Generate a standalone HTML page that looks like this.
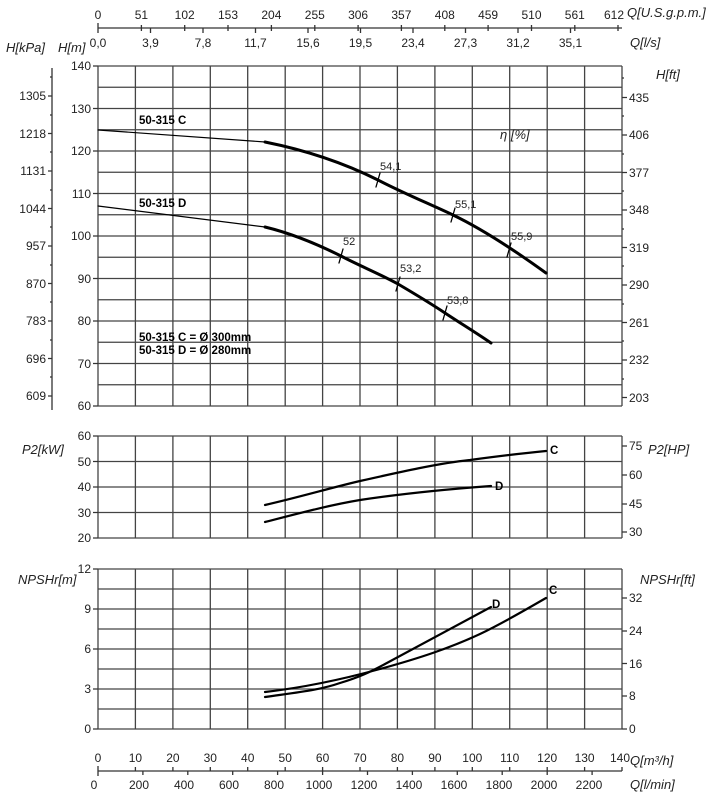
<!DOCTYPE html>
<html><head><meta charset="utf-8"><style>
body{margin:0;background:#fff}
svg{display:block;font-family:"Liberation Sans",Arial,sans-serif}
.g{stroke:#444;stroke-width:1.3;fill:none}
.ax{stroke:#333;stroke-width:1.3;fill:none}
.c{stroke:#000;fill:none;stroke-linecap:round;stroke-linejoin:round}
text{font-size:12px;fill:#222}
.it{font-style:italic;font-size:13px}
.b{font-weight:bold;font-size:11.5px;fill:#000}
.s{font-size:11px}
</style></head><body>
<svg width="715" height="794" viewBox="0 0 715 794" xmlns="http://www.w3.org/2000/svg">
<path class="ax" d="M98 28H622 M98 23V33 M141.4 25V31 M184.7 25V31 M228 25V31 M271.4 25V31 M314.8 25V31 M358.1 25V31 M401.4 25V31 M444.8 25V31 M488.1 25V31 M531.5 25V31 M574.8 25V31 M618 25V31 M150.5 28V33 M203 28V33 M255.5 28V33 M308 28V33 M360.5 28V33 M413 28V33 M465.5 28V33 M518 28V33 M570.5 28V33"/>
<g text-anchor="middle">
<text x="98" y="19">0</text><text x="141.4" y="19">51</text><text x="184.7" y="19">102</text><text x="228" y="19">153</text><text x="271.4" y="19">204</text><text x="314.8" y="19">255</text><text x="358.1" y="19">306</text><text x="401.4" y="19">357</text><text x="444.8" y="19">408</text><text x="488.1" y="19">459</text><text x="531.5" y="19">510</text><text x="574.8" y="19">561</text><text x="614" y="19">612</text>
<text x="98" y="47">0,0</text><text x="150.5" y="47">3,9</text><text x="203" y="47">7,8</text><text x="255.5" y="47">11,7</text><text x="308" y="47">15,6</text><text x="360.5" y="47">19,5</text><text x="413" y="47">23,4</text><text x="465.5" y="47">27,3</text><text x="518" y="47">31,2</text><text x="570.5" y="47">35,1</text>
</g>
<text class="it" x="627" y="17">Q[U.S.g.p.m.]</text>
<text class="it" x="630" y="47">Q[l/s]</text>
<text class="it" x="6" y="52">H[kPa]</text>
<text class="it" x="58" y="52">H[m]</text>
<text class="it" x="656" y="79">H[ft]</text>

<path class="g" d="M98 66V406 M135.4 66V406 M172.9 66V406 M210.3 66V406 M247.7 66V406 M285.2 66V406 M322.6 66V406 M360 66V406 M397.4 66V406 M434.9 66V406 M472.3 66V406 M509.7 66V406 M547.2 66V406 M584.6 66V406 M622 66V406
M98 66H622 M98 87.25H622 M98 108.5H622 M98 129.75H622 M98 151H622 M98 172.25H622 M98 193.5H622 M98 214.75H622 M98 236H622 M98 257.25H622 M98 278.5H622 M98 299.75H622 M98 321H622 M98 342.25H622 M98 363.5H622 M98 384.75H622 M98 406H622"/>
<path class="ax" d="M93 66H98 M93 108.5H98 M93 151H98 M93 193.5H98 M93 236H98 M93 278.5H98 M93 321H98 M93 363.5H98 M93 406H98"/>
<g text-anchor="end">
<text x="91" y="70">140</text><text x="91" y="113">130</text><text x="91" y="155">120</text><text x="91" y="198">110</text><text x="91" y="240">100</text><text x="91" y="283">90</text><text x="91" y="325">80</text><text x="91" y="368">70</text><text x="91" y="410">60</text>
</g>
<path class="ax" d="M52 68V410 M48 96H52 M48 133.5H52 M48 171H52 M48 208.5H52 M48 246H52 M48 283.5H52 M48 321H52 M48 358.5H52 M48 396H52 M50 77H52 M50 115H52 M50 152H52 M50 190H52 M50 227H52 M50 265H52 M50 302H52 M50 340H52 M50 377H52"/>
<g text-anchor="end">
<text x="46" y="100">1305</text><text x="46" y="138">1218</text><text x="46" y="175">1131</text><text x="46" y="213">1044</text><text x="46" y="250">957</text><text x="46" y="288">870</text><text x="46" y="325">783</text><text x="46" y="363">696</text><text x="46" y="400">609</text>
</g>
<path class="ax" d="M622 97.5H627 M622 135H627 M622 172.5H627 M622 210H627 M622 247.5H627 M622 285H627 M622 322.5H627 M622 360H627 M622 397.5H627 M622 78H624 M622 116H624 M622 154H624 M622 191H624 M622 229H624 M622 266H624 M622 304H624 M622 341H624 M622 379H624"/>
<text x="629" y="102">435</text><text x="629" y="139">406</text><text x="629" y="177">377</text><text x="629" y="214">348</text><text x="629" y="252">319</text><text x="629" y="289">290</text><text x="629" y="327">261</text><text x="629" y="364">232</text><text x="629" y="402">203</text>

<path class="c" stroke-width="1.2" d="M98 130 L265 142"/>
<path class="c" stroke-width="3" d="M265 142 C300 149 340 161 378 180 C405 194 430 204 453 215 C480 228 510 247 546 273"/>
<path class="c" stroke-width="1.2" d="M98 206 L265 227"/>
<path class="c" stroke-width="3" d="M265 227 C290 233 315 243 341 256 C360 266 380 274 398 284 C415 294 430 303 445 313 C460 323 475 332 491 343"/>
<path class="c" stroke-width="1.3" d="M376 187L380 173 M451 222L455 208 M507 257L511 243 M339 263L343 249 M396 291L400 277 M443 320L447 306"/>
<text class="s" x="380" y="170">54,1</text><text class="s" x="455" y="208">55,1</text><text class="s" x="511" y="240">55,9</text>
<text class="s" x="343" y="245">52</text><text class="s" x="400" y="272">53,2</text><text class="s" x="447" y="304">53,8</text>
<text class="it" x="500" y="139">η [%]</text>
<text class="b" x="139" y="124">50-315 C</text>
<text class="b" x="139" y="207">50-315 D</text>
<text class="b" x="139" y="341">50-315 C = Ø 300mm</text>
<text class="b" x="139" y="354">50-315 D = Ø 280mm</text>

<path class="g" d="M98 436V538 M135.4 436V538 M172.9 436V538 M210.3 436V538 M247.7 436V538 M285.2 436V538 M322.6 436V538 M360 436V538 M397.4 436V538 M434.9 436V538 M472.3 436V538 M509.7 436V538 M547.2 436V538 M584.6 436V538 M622 436V538
M98 436H622 M98 461.5H622 M98 487H622 M98 512.5H622 M98 538H622"/>
<path class="ax" d="M93 436H98 M93 461.5H98 M93 487H98 M93 512.5H98 M93 538H98 M622 446H627 M622 475H627 M622 504H627 M622 532H627"/>
<g text-anchor="end"><text x="91" y="440">60</text><text x="91" y="466">50</text><text x="91" y="491">40</text><text x="91" y="517">30</text><text x="91" y="542">20</text></g>
<text x="629" y="450">75</text><text x="629" y="479">60</text><text x="629" y="508">45</text><text x="629" y="536">30</text>
<text class="it" x="22" y="454">P2[kW]</text>
<text class="it" x="648" y="454">P2[HP]</text>
<path class="c" stroke-width="2.2" d="M265 505 C300 497 330 488 360 481 C400 472 440 463 470 460 C500 456 525 453 546 451"/>
<path class="c" stroke-width="2.2" d="M265 522 C300 513 330 505 360 500 C400 494 450 489 491 486"/>
<text class="b" x="550" y="454">C</text><text class="b" x="495" y="490">D</text>

<path class="g" d="M98 569V729 M135.4 569V729 M172.9 569V729 M210.3 569V729 M247.7 569V729 M285.2 569V729 M322.6 569V729 M360 569V729 M397.4 569V729 M434.9 569V729 M472.3 569V729 M509.7 569V729 M547.2 569V729 M584.6 569V729 M622 569V729
M98 569H622 M98 589H622 M98 609H622 M98 629H622 M98 649H622 M98 669H622 M98 689H622 M98 709H622 M98 729H622"/>
<path class="ax" d="M93 569H98 M93 609H98 M93 649H98 M93 689H98 M93 729H98 M622 598H627 M622 631H627 M622 663.5H627 M622 696H627 M622 729H627"/>
<g text-anchor="end"><text x="91" y="573">12</text><text x="91" y="613">9</text><text x="91" y="653">6</text><text x="91" y="693">3</text><text x="91" y="733">0</text></g>
<text x="629" y="602">32</text><text x="629" y="635">24</text><text x="629" y="668">16</text><text x="629" y="700">8</text><text x="629" y="733">0</text>
<text class="it" x="18" y="584">NPSHr[m]</text>
<text class="it" x="640" y="584">NPSHr[ft]</text>
<path class="c" stroke-width="2.2" d="M265 692 C300 688 340 680 380 669 C420 658 450 648 480 634 C505 622 525 610 546 598"/>
<path class="c" stroke-width="2.2" d="M265 697 C300 692 320 690 340 683 C360 677 370 672 385 664 C420 645 455 626 491 607"/>
<text class="b" x="549" y="594">C</text><text class="b" x="492" y="608">D</text>

<path class="ax" d="M98 771H622 M98 766V776 M135.4 767V771 M172.9 767V771 M210.3 767V771 M247.7 767V771 M285.2 767V771 M322.6 767V771 M360 767V771 M397.4 767V771 M434.9 767V771 M472.3 767V771 M509.7 767V771 M547.2 767V771 M584.6 767V771 M622 767V771
M142.9 771V775 M187.8 771V775 M232.7 771V775 M277.6 771V775 M322.6 771V775 M367.5 771V775 M412.4 771V775 M457.3 771V775 M502.2 771V775 M547.2 771V775 M592.1 771V775"/>
<g text-anchor="middle">
<text x="98" y="762">0</text><text x="135.4" y="762">10</text><text x="172.9" y="762">20</text><text x="210.3" y="762">30</text><text x="247.7" y="762">40</text><text x="285.2" y="762">50</text><text x="322.6" y="762">60</text><text x="360" y="762">70</text><text x="397.4" y="762">80</text><text x="434.9" y="762">90</text><text x="472.3" y="762">100</text><text x="509.7" y="762">110</text><text x="547.2" y="762">120</text><text x="584.6" y="762">130</text><text x="620" y="762">140</text>
<text x="94" y="789">0</text><text x="139" y="789">200</text><text x="184" y="789">400</text><text x="229" y="789">600</text><text x="274" y="789">800</text><text x="319" y="789">1000</text><text x="364" y="789">1200</text><text x="409" y="789">1400</text><text x="454" y="789">1600</text><text x="499" y="789">1800</text><text x="544" y="789">2000</text><text x="589" y="789">2200</text>
</g>
<text class="it" x="630" y="765">Q[m³/h]</text>
<text class="it" x="630" y="789">Q[l/min]</text>
</svg>
</body></html>
